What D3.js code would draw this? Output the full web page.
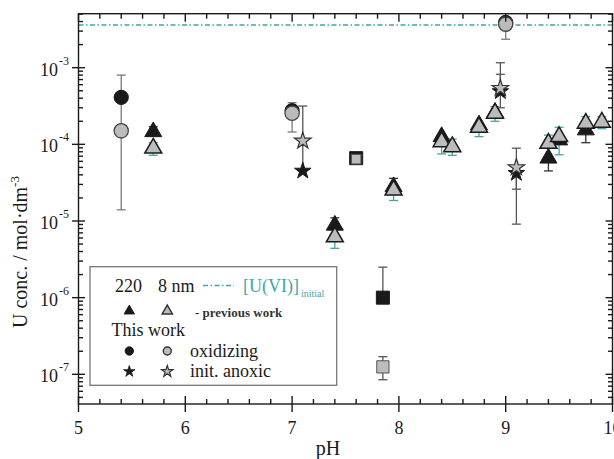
<!DOCTYPE html>
<html><head><meta charset="utf-8">
<script src="https://cdn.jsdelivr.net/npm/d3@7"></script>
<style>body{margin:0;background:#fff}svg{display:block}</style>
</head><body><svg id="c" width="614" height="459" font-family="'Liberation Serif', 'Times New Roman', Times, 'DejaVu Serif', serif"></svg>
<script>
// ---- data (pH, value, errLow, errHigh) ----
const tri220 = [
  [5.7, 1.46e-4, null, 1.7e-4],
  [7.4, 8.8e-6, null, 1.1e-5],
  [7.95, 2.8e-5, null, 3.6e-5],
  [8.4, 1.26e-4, null, null],
  [8.75, 1.79e-4, null, null],
  [8.9, 2.6e-4, null, null],
  [9.4, 6.6e-5, 4.5e-5, null],
  [9.5, 1.14e-4, null, null],
  [9.75, 1.54e-4, 1.05e-4, null]
];
const tri8nm = [
  [5.7, 8.9e-5, 7.2e-5, 1.05e-4],
  [7.4, 6.2e-6, 4.4e-6, null],
  [7.95, 2.53e-5, 1.85e-5, null],
  [8.4, 1.08e-4, 7.5e-5, null],
  [8.5, 9.3e-5, 7.2e-5, 1.17e-4],
  [8.75, 1.67e-4, 1.26e-4, null],
  [8.9, 2.54e-4, 2.0e-4, 3.1e-4],
  [9.4, 1.03e-4, null, 1.32e-4],
  [9.5, 1.26e-4, 7.3e-5, 1.67e-4],
  [9.75, 1.88e-4, null, 2.3e-4],
  [9.9, 1.94e-4, 1.6e-4, 2.3e-4]
];
const circ220 = [[5.4, 4.1e-4, null, null],[7.0, 2.75e-4, null, null],[9.0, 3.9e-3, null, null]];
const circ8nm = [[5.4, 1.5e-4, 1.4e-5, 8e-4],[7.0, 2.55e-4, 1.45e-4, 3.5e-4],[9.0, 3.7e-3, 2.35e-3, null]];
const star220 = [[7.1, 4.5e-5, null, null],[8.95, 4.9e-4, 3.0e-4, 8.2e-4],[9.1, 4.2e-5, 2.6e-5, null]];
const star8nm = [[7.1, 1.11e-4, 4.5e-5, 3.16e-4],[8.95, 5.4e-4, null, 1.16e-3],[9.1, 5.0e-5, 9.1e-6, 8.9e-5]];
const sq220 = [[7.6, 6.6e-5, null, null],[7.85, 1.0e-6, null, 2.5e-6]];
const sq8nm = [[7.6, 6.4e-5, null, null],[7.85, 1.25e-7, 8.5e-8, 1.7e-7]];
const uInitial = 3.6e-3;
const xTicks = [5, 6, 7, 8, 9, 10];
const yTicks = [1e-7, 1e-6, 1e-5, 1e-4, 1e-3];
const yTickExp = ["-7", "-6", "-5", "-4", "-3"];

// ---- layout ----
const L = 78.5, R = 612.5, T = 13.7, B = 404;
const x = d3.scaleLinear().domain([5, 10]).range([L, R]);
const y = d3.scaleLog().domain([4.1e-8, 5.06e-3]).range([B, T]);
const svg = d3.select("#c");
const teal = "#3ea6a7", gray = "#bcbcbc", ink = "#1a1a1a";

// ---- reference line ----
svg.append("line").attr("x1", L).attr("x2", R).attr("y1", y(uInitial)).attr("y2", y(uInitial))
  .attr("stroke", teal).attr("stroke-width", 1.5).attr("stroke-dasharray", "5,2.5,1.5,2.5");

// ---- error bars ----
function errbars(data, color, w) {
  const g = svg.append("g").attr("stroke", color).attr("stroke-width", w || 1.3).attr("fill", "none");
  data.forEach(d => {
    const cx = x(d[0]);
    const lo = d[2] != null ? d[2] : d[1], hi = d[3] != null ? d[3] : d[1];
    if (lo === hi) return;
    g.append("line").attr("x1", cx).attr("x2", cx).attr("y1", y(lo)).attr("y2", y(hi));
    if (d[2] != null) g.append("line").attr("x1", cx - 4.5).attr("x2", cx + 4.5).attr("y1", y(lo)).attr("y2", y(lo));
    if (d[3] != null) g.append("line").attr("x1", cx - 4.5).attr("x2", cx + 4.5).attr("y1", y(hi)).attr("y2", y(hi));
  });
}
errbars(circ8nm, "#7a7a7a");
errbars(star8nm, "#555");
errbars(star220, "#555");
errbars(sq220, "#555");
errbars(sq8nm, "#555");
errbars(tri220, "#333");
errbars(tri8nm, teal);

// ---- markers ----
function marks(data, type, size, fill, stroke, sw) {
  const sym = d3.symbol().type(type).size(size);
  svg.append("g").selectAll("path").data(data).join("path")
    .attr("d", sym)
    .attr("transform", d => `translate(${x(d[0])},${y(d[1])})`)
    .attr("fill", fill).attr("stroke", stroke).attr("stroke-width", sw);
}
marks(sq220, d3.symbolSquare, 170, ink, ink, 1);
marks(sq8nm.slice(0,1), d3.symbolSquare, 90, gray, "#555", 1);
marks(sq8nm.slice(1), d3.symbolSquare, 150, gray, "#555", 1);
marks(circ220, d3.symbolCircle, 160, ink, ink, 1);
marks(circ8nm, d3.symbolCircle, 160, gray, "#444", 1.3);
marks(tri220, d3.symbolTriangle, 125, ink, ink, 1);
marks(tri8nm, d3.symbolTriangle, 125, gray, ink, 1.5);
marks(star220, d3.symbolStar, 85, ink, ink, 1);
marks(star8nm, d3.symbolStar, 85, gray, "#333", 1.2);

// ---- axes frame and ticks ----
const ax = svg.append("g").attr("stroke", ink).attr("stroke-width", 1.4);
ax.append("rect").attr("x", L).attr("y", T).attr("width", R - L).attr("height", B - T).attr("fill", "none");
const xMinor = d3.range(0, 26).map(i => 5 + i * 0.2).filter(v => Math.abs(v - Math.round(v)) > 1e-6);
xMinor.forEach(v => {
  ax.append("line").attr("x1", x(v)).attr("x2", x(v)).attr("y1", B).attr("y2", B - 5);
  ax.append("line").attr("x1", x(v)).attr("x2", x(v)).attr("y1", T).attr("y2", T + 5);
});
xTicks.forEach(v => {
  ax.append("line").attr("x1", x(v)).attr("x2", x(v)).attr("y1", B - 8).attr("y2", B + 8);
  ax.append("line").attr("x1", x(v)).attr("x2", x(v)).attr("y1", T).attr("y2", T + 8);
});
const yMinor = y.ticks().filter(v => !yTicks.some(t => Math.abs(t - v) / t < 1e-6));
yMinor.forEach(v => {
  ax.append("line").attr("x1", L).attr("x2", L + 4.5).attr("y1", y(v)).attr("y2", y(v));
  ax.append("line").attr("x1", R).attr("x2", R - 4.5).attr("y1", y(v)).attr("y2", y(v));
});
yTicks.forEach(v => {
  ax.append("line").attr("x1", L - 6.5).attr("x2", L + 6.5).attr("y1", y(v)).attr("y2", y(v));
  ax.append("line").attr("x1", R - 7).attr("x2", R).attr("y1", y(v)).attr("y2", y(v));
});

// ---- tick labels ----
svg.append("g").selectAll("text").data(xTicks).join("text")
  .attr("x", d => x(d)).attr("y", B + 30).attr("text-anchor", "middle")
  .attr("font-size", 18).attr("fill", ink).text(d => d);
svg.append("g").selectAll("text").data(yTicks).join("text")
  .attr("x", 58).attr("y", d => y(d) + 8).attr("text-anchor", "end")
  .attr("font-size", 18).attr("fill", ink).text("10");
svg.append("g").selectAll("text").data(yTicks).join("text")
  .attr("x", 59).attr("y", d => y(d) - 3).attr("font-size", 12).attr("fill", ink)
  .text((d, i) => yTickExp[i]);

// ---- axis titles ----
svg.append("text").attr("x", 328).attr("y", 455).attr("text-anchor", "middle")
  .attr("font-size", 20).attr("fill", ink).text("pH");
const yt = svg.append("text").attr("transform", "translate(27,252) rotate(-90)")
  .attr("text-anchor", "middle").attr("font-size", 20).attr("fill", ink);
yt.append("tspan").text("U conc. / mol·dm");
yt.append("tspan").attr("dy", -8).attr("font-size", 13).text("-3");

// ---- legend ----
const lg = svg.append("g");
lg.append("rect").attr("x", 90).attr("y", 266.7).attr("width", 246.7).attr("height", 118.6)
  .attr("fill", "#fff").attr("stroke", "#777").attr("stroke-width", 1.3);
lg.append("text").attr("x", 115).attr("y", 292).attr("font-size", 18).attr("fill", ink).text("220");
lg.append("text").attr("x", 158).attr("y", 292).attr("font-size", 18).attr("fill", ink).text("8 nm");
lg.append("line").attr("x1", 203).attr("x2", 234).attr("y1", 285.5).attr("y2", 285.5)
  .attr("stroke", teal).attr("stroke-width", 1.4).attr("stroke-dasharray", "5,2.5,1.5,2.5");
const ui = lg.append("text").attr("x", 243).attr("y", 292).attr("font-size", 18).attr("fill", teal);
ui.append("tspan").text("[U(VI)]");
ui.append("tspan").attr("dy", 5).attr("dx", 2).attr("font-size", 10).text("initial");
function lmark(type, size, cx, cy, fill, stroke, sw) {
  lg.append("path").attr("d", d3.symbol().type(type).size(size)())
    .attr("transform", `translate(${cx},${cy})`).attr("fill", fill).attr("stroke", stroke).attr("stroke-width", sw);
}
lmark(d3.symbolTriangle, 45, 129.3, 311, ink, ink, 1);
lmark(d3.symbolTriangle, 45, 167.3, 311, gray, "#333", 1.5);
lg.append("text").attr("x", 195).attr("y", 316.5).attr("font-size", 13).attr("font-weight", "bold").attr("fill", "#333").text("- previous work");
lg.append("text").attr("x", 111.5).attr("y", 336).attr("font-size", 18).attr("fill", ink).text("This work");
lmark(d3.symbolCircle, 55, 129.3, 351, ink, ink, 1);
lmark(d3.symbolCircle, 50, 167.3, 351, gray, "#333", 1.4);
lg.append("text").attr("x", 190).attr("y", 357).attr("font-size", 18).attr("fill", ink).text("oxidizing");
lmark(d3.symbolStar, 40, 129.3, 371.5, ink, ink, 0.8);
lmark(d3.symbolStar, 40, 167.3, 371.5, gray, "#333", 1.2);
lg.append("text").attr("x", 190).attr("y", 377).attr("font-size", 18).attr("fill", ink).text("init. anoxic");
</script></body></html>
